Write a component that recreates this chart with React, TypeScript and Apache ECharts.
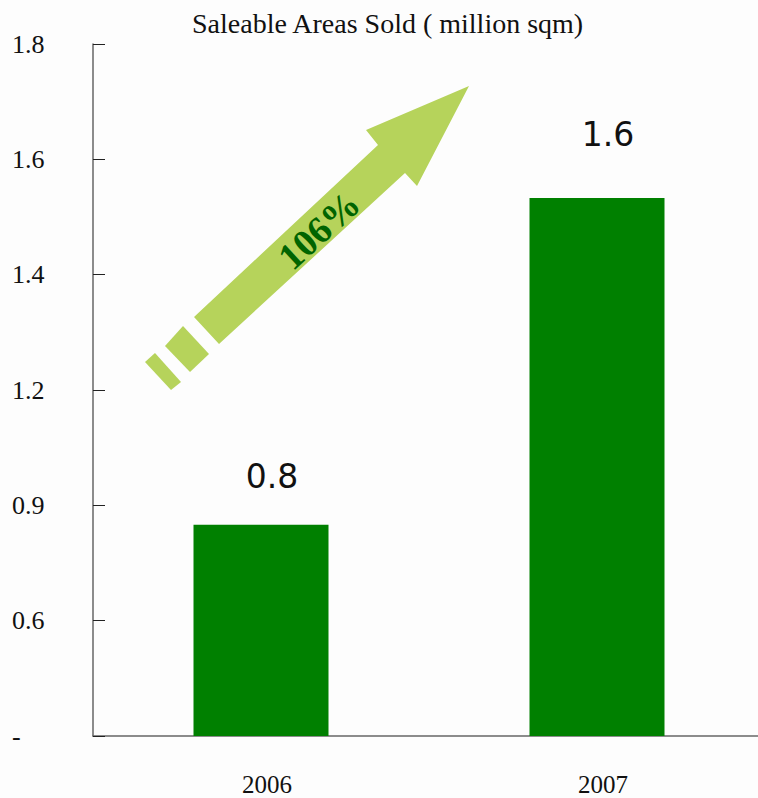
import React, { useEffect, useRef } from "react";
import * as echarts from "echarts";

// Saleable areas sold, million sqm
const YEARS = ["2006", "2007"];
const AREAS_SOLD = [0.8, 1.6];
const Y_TICK_LABELS = ["-", "0.6", "0.9", "1.2", "1.4", "1.6", "1.8"];
const GROWTH_LABEL = "106%";

const Y_MIN = 0.2825;
const Y_STEP = 0.2825;
const Y_MAX = Y_MIN + Y_STEP * (Y_TICK_LABELS.length - 1);

const SERIF = "'Liberation Serif', 'Times New Roman', serif";
const ARROW_GREEN = "#b6d35b";

// the later bar's value label sits a little higher above its bar
const LABEL_DISTANCES = [32, 47];

export default function App() {
  const ref = useRef<HTMLDivElement>(null);

  useEffect(() => {
    if (!ref.current) return;
    const chart = echarts.init(ref.current, undefined, { renderer: "svg" });
    chart.setOption({
      animation: false,
      backgroundColor: "#fdfdfd",
      title: {
        text: "Saleable Areas Sold ( million sqm)",
        left: 187,
        top: 4,
        textStyle: { fontFamily: SERIF, fontSize: 28, fontWeight: "normal", color: "#111" },
      },
      grid: {
        left: 93,
        width: 672,
        top: 44,
        bottom: 62,
        containLabel: false,
        outerBoundsMode: "none",
      },
      xAxis: {
        type: "category",
        data: YEARS,
        axisLine: { lineStyle: { color: "#666", width: 1.5 } },
        axisTick: { inside: true, length: 10, lineStyle: { color: "#222" } },
        axisLabel: {
          fontFamily: SERIF,
          fontSize: 25,
          color: "#111",
          margin: 36,
          padding: [0, 0, 0, 12],
        },
      },
      yAxis: {
        type: "value",
        min: Y_MIN,
        max: Y_MAX,
        interval: Y_STEP,
        startValue: Y_MIN,
        splitLine: { show: false },
        axisLine: { show: true, lineStyle: { color: "#666", width: 1.5 } },
        axisTick: { show: true, inside: true, length: 12, lineStyle: { color: "#222" } },
        axisLabel: {
          fontFamily: SERIF,
          fontSize: 26,
          color: "#111",
          align: "left",
          margin: 81,
          formatter: (v: number) => Y_TICK_LABELS[Math.round((v - Y_MIN) / Y_STEP)] ?? "",
        },
      },
      series: [
        {
          type: "bar",
          data: AREAS_SOLD.map((v, i) => ({
            value: v,
            label: { distance: LABEL_DISTANCES[i] },
          })),
          barWidth: 135,
          clip: true,
          itemStyle: { color: "#008000" },
          label: {
            show: true,
            position: "top",
            offset: [11, 0],
            fontFamily: "'DejaVu Sans', sans-serif",
            fontSize: 33,
            color: "#111",
          },
        },
      ],
      graphic: [
        {
          type: "polygon",
          shape: {
            points: [
              [469, 86],
              [366, 130],
              [378, 145],
              [194, 317],
              [219, 344],
              [405, 173],
              [417, 186],
            ],
          },
          style: { fill: ARROW_GREEN },
        },
        {
          type: "polygon",
          shape: { points: [[165, 346], [183, 326], [209, 354], [190, 372]] },
          style: { fill: ARROW_GREEN },
        },
        {
          type: "polygon",
          shape: { points: [[145, 362], [155, 353], [181, 382], [171, 390]] },
          style: { fill: ARROW_GREEN },
        },
        {
          type: "text",
          x: 319,
          y: 230,
          rotation: (42.6 * Math.PI) / 180,
          style: {
            text: GROWTH_LABEL,
            fontFamily: SERIF,
            fontWeight: "bold",
            fontSize: 38,
            fill: "#006400",
            align: "center",
            verticalAlign: "middle",
          },
        },
      ],
    });
    return () => chart.dispose();
  }, []);

  return (
    <div
      ref={ref}
      style={{ position: "absolute", left: 0, top: 0, width: 758, height: 798 }}
    />
  );
}
